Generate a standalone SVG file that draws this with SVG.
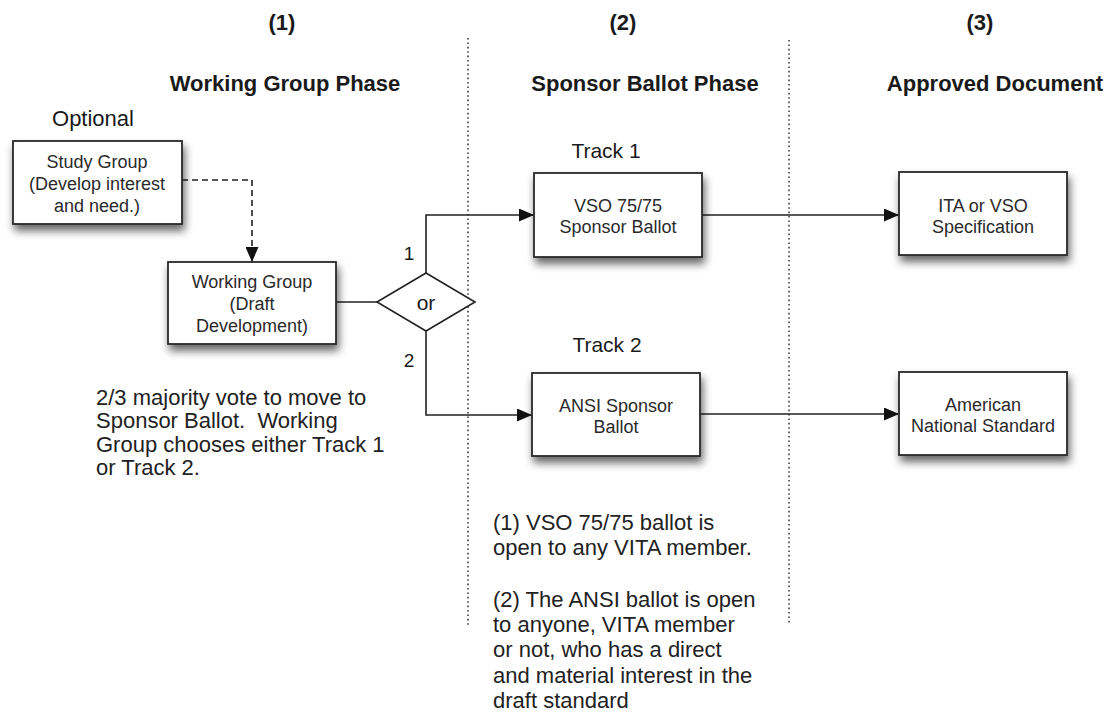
<svg xmlns="http://www.w3.org/2000/svg" width="1109" height="715" viewBox="0 0 1109 715">
<style>
text{font-family:"Liberation Sans",Arial,Helvetica,sans-serif;fill:#1a1a1a}
.hd{font-size:22px;font-weight:bold;text-anchor:middle}
.bx{font-size:18px;text-anchor:middle;fill:#2a2a2a}
.lb{font-size:21px;text-anchor:middle}
.pg{font-size:22px;fill:#222}
.box{fill:#fff;stroke:#2a2a2a;stroke-width:1.8;filter:url(#sh)}
.ln{fill:none;stroke:#222;stroke-width:1.6}
.arr{marker-end:url(#ah)}
.dash{stroke-dasharray:6 4}
.dot{fill:none;stroke:#555;stroke-width:1.8;stroke-dasharray:1.6 2.8}
</style>
<defs>
<filter id="sh" x="-20%" y="-20%" width="150%" height="170%">
<feDropShadow dx="2" dy="6" stdDeviation="4" flood-color="#000" flood-opacity="0.6"/>
</filter>
<marker id="ah" markerUnits="userSpaceOnUse" markerWidth="16" markerHeight="13" refX="15" refY="6.5" orient="auto">
<path d="M0,0 L15,6.5 L0,13 z" fill="#111"/>
</marker>
</defs>
<rect width="1109" height="715" fill="#fff"/>

<g id="dividers">
<line class="dot" x1="468" y1="38" x2="468" y2="625"/>
<line class="dot" x1="789" y1="40" x2="789" y2="625"/>
</g>

<g id="headers">
<text class="hd" x="282" y="30">(1)</text>
<text class="hd" x="623" y="30">(2)</text>
<text class="hd" x="980" y="30">(3)</text>
<text class="hd" x="285" y="91">Working Group Phase</text>
<text class="hd" x="645" y="91">Sponsor Ballot Phase</text>
<text class="hd" x="995" y="91">Approved Document</text>
</g>

<g id="connectors">
<path class="ln dash arr" d="M182,180 H252 V262"/>
<path class="ln" d="M336,302 H377"/>
<path class="ln arr" d="M426,273 V215 H534"/>
<path class="ln arr" d="M426,331 V415 H532"/>
<path class="ln arr" d="M702,215 H899"/>
<path class="ln arr" d="M700,414 H899"/>
</g>

<g id="study-group">
<text class="lb" x="93" y="126" style="font-size:22px">Optional</text>
<rect class="box" x="13" y="141" width="169" height="83"/>
<text class="bx" x="97" y="168">Study Group</text>
<text class="bx" x="97" y="190">(Develop interest</text>
<text class="bx" x="97" y="212">and need.)</text>
</g>

<g id="working-group">
<rect class="box" x="168" y="262" width="168" height="82"/>
<text class="bx" x="252" y="288">Working Group</text>
<text class="bx" x="252" y="310">(Draft</text>
<text class="bx" x="252" y="332">Development)</text>
</g>

<g id="decision">
<polygon points="377,302 426,273 475,302 426,331" fill="#fff" stroke="#222" stroke-width="1.6"/>
<text class="lb" x="426" y="310">or</text>
<text class="lb" x="409" y="260" style="font-size:19px">1</text>
<text class="lb" x="409" y="367" style="font-size:19px">2</text>
</g>

<g id="vso-ballot">
<text class="lb" x="606" y="158">Track 1</text>
<rect class="box" x="534" y="173" width="168" height="84"/>
<text class="bx" x="618" y="212">VSO 75/75</text>
<text class="bx" x="618" y="233">Sponsor Ballot</text>
</g>

<g id="ansi-ballot">
<text class="lb" x="607" y="352">Track 2</text>
<rect class="box" x="532" y="373" width="168" height="83"/>
<text class="bx" x="616" y="412">ANSI Sponsor</text>
<text class="bx" x="616" y="433">Ballot</text>
</g>

<g id="ita-spec">
<rect class="box" x="899" y="172" width="168" height="83"/>
<text class="bx" x="983" y="212">ITA or VSO</text>
<text class="bx" x="983" y="233">Specification</text>
</g>

<g id="ans-standard">
<rect class="box" x="899" y="372" width="168" height="83"/>
<text class="bx" x="983" y="411">American</text>
<text class="bx" x="983" y="432">National Standard</text>
</g>

<g id="note-left">
<text class="pg" x="96" y="405">2/3 majority vote to move to</text>
<text class="pg" x="96" y="428">Sponsor Ballot.&#160; Working</text>
<text class="pg" x="96" y="452">Group chooses either Track 1</text>
<text class="pg" x="96" y="475">or Track 2.</text>
</g>

<g id="note-bottom">
<text class="pg" x="493" y="530">(1) VSO 75/75 ballot is</text>
<text class="pg" x="493" y="555">open to any VITA member.</text>
<text class="pg" x="493" y="607">(2) The ANSI ballot is open</text>
<text class="pg" x="493" y="632">to anyone, VITA member</text>
<text class="pg" x="493" y="657">or not, who has a direct</text>
<text class="pg" x="493" y="683">and material interest in the</text>
<text class="pg" x="493" y="708">draft standard</text>
</g>
</svg>
